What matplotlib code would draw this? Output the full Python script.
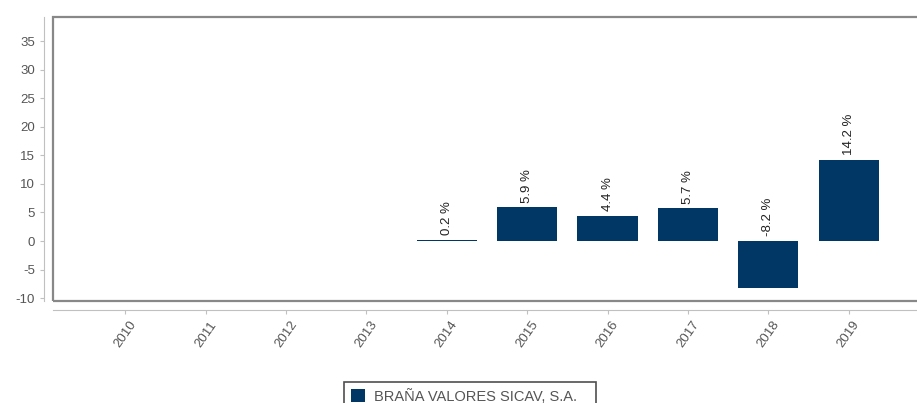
import matplotlib
matplotlib.use("Agg")
from matplotlib import pyplot as plt
from matplotlib.patches import Rectangle

plt.rcParams['font.family'] = ['Liberation Sans', 'DejaVu Sans']
plt.rcParams['axes.unicode_minus'] = False

years = ['2010', '2011', '2012', '2013', '2014', '2015', '2016', '2017', '2018', '2019']
returns = [None, None, None, None, 0.2, 5.9, 4.4, 5.7, -8.2, 14.2]
yticks = [-10, -5, 0, 5, 10, 15, 20, 25, 30, 35]
fund_name = 'BRAÑA VALORES SICAV, S.A.'

bar_color = '#003764'
W, H = 917, 403

fig = plt.figure(figsize=(W / 100, H / 100), dpi=100)
ax = fig.add_axes([53 / W, (H - 301) / H, (921 - 53) / W, (301 - 17) / H])

xs = list(range(len(years)))
bx = [x for x, v in zip(xs, returns) if v is not None]
bv = [v for v in returns if v is not None]
bars = ax.bar(bx, bv, width=0.75, color=bar_color, label=fund_name, zorder=2)

for x, v in zip(bx, bv):
    ax.text(x, max(v, 0) + 0.8, f'{v:.1f} %', rotation=90, ha='center', va='bottom',
            fontsize=9.5, color='#222222')

ax.set_xlim(-0.9, 9.9)
ax.set_ylim(-10.5, 39.2)
ax.set_xticks(xs)
ax.set_xticklabels(years)
ax.set_yticks(yticks)

for s in ['top', 'right']:
    ax.spines[s].set_visible(False)
ax.spines['left'].set_position(('outward', 6.5))
ax.spines['bottom'].set_position(('outward', 6.5))
ax.spines['left'].set_color('#c0c0c0')
ax.spines['bottom'].set_color('#c0c0c0')
ax.tick_params(axis='both', colors='#c0c0c0', labelcolor='#555555', labelsize=9.5, length=3)
ax.tick_params(axis='x', labelrotation=55)
for lbl in ax.get_xticklabels():
    lbl.set_ha('center')
    lbl.set_va('top')

ax.add_patch(Rectangle((0, 0), 1, 1, transform=ax.transAxes, fill=False,
                       ec='#888888', lw=1.6, clip_on=False, zorder=3))

leg = fig.legend(handles=[bars], labels=[fund_name + '   '], loc='upper center',
                 bbox_to_anchor=(470 / W, 1 - 375 / H), frameon=True, fancybox=False,
                 edgecolor='#222222', fontsize=10.5, handlelength=1.0, handleheight=1.0,
                 labelcolor='#555555', borderpad=0.45, handletextpad=0.6)
leg.get_frame().set_linewidth(1.2)

fig.savefig('out.png', dpi=100)
